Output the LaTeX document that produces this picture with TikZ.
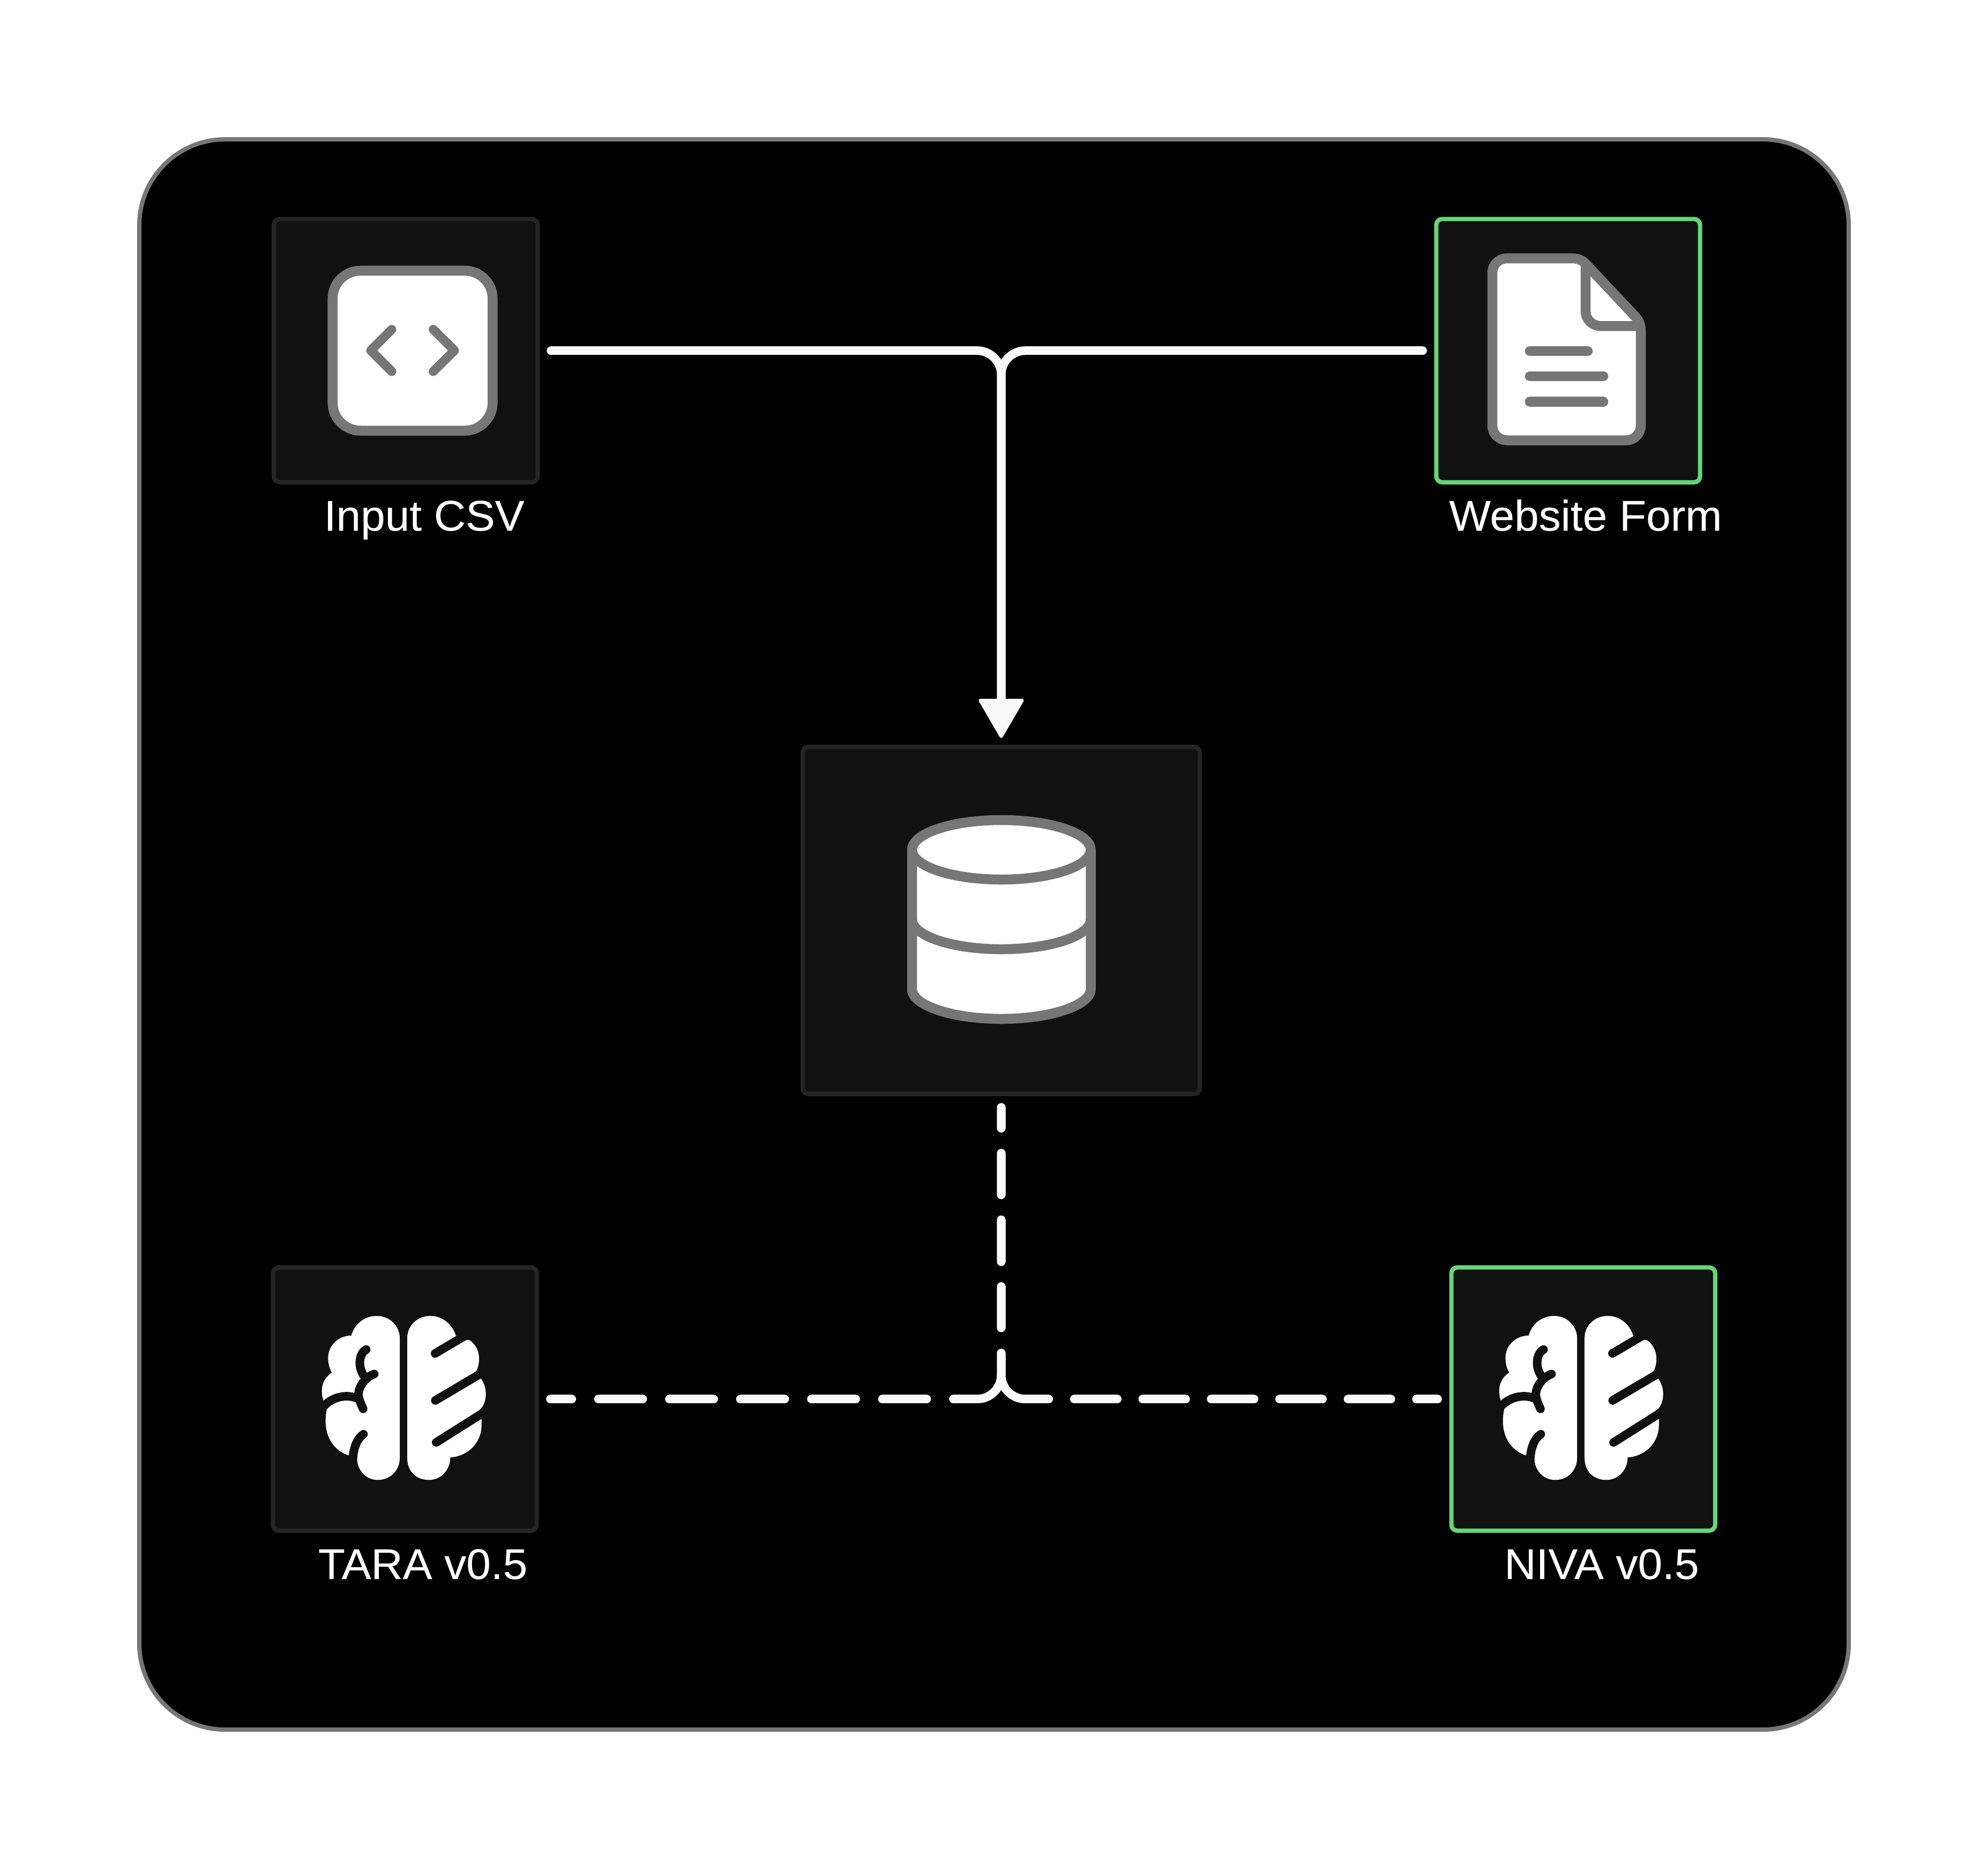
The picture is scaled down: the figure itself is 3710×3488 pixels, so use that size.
\documentclass[tikz,border=0pt]{standalone}
\usepackage{fontspec}
\setmainfont[FakeStretch=1.025,FakeBold=0.12]{Liberation Sans}
\usetikzlibrary{arrows.meta}
\definecolor{boxfill}{HTML}{111111}
\definecolor{boxline}{HTML}{252525}
\definecolor{okgreen}{HTML}{65D676}
\definecolor{icongray}{HTML}{767676}
\definecolor{wire}{HTML}{F9F9F9}
\tikzset{
  cardbox/.style={draw=boxline,fill=boxfill,line width=0.08cm,rounded corners=0.11cm,outer sep=0pt,inner sep=0pt,minimum width=4.92cm,minimum height=4.91cm},
  greenbox/.style={cardbox,draw=okgreen},
  caption/.style={text=white,anchor=base,inner sep=0pt,font=\fontsize{22.76pt}{26pt}\selectfont},
  iconshape/.style={draw=icongray,fill=white,line width=0.185cm,line join=round},
  iconline/.style={draw=icongray,line width=0.185cm,line cap=round},
  flow/.style={draw=wire,line width=0.16cm,line cap=round,rounded corners=0.45cm},
  groove/.style={draw=boxfill,line width=0.16cm,line cap=round},
  brain/.pic={
    \begin{scope}[shift={(-165.5,-165)},scale=1/3]
      \fill[white] (468,155) .. controls (468,85) and (410,30) .. (340,30)
        .. controls (270,30) and (215,75) .. (197,140)
        .. controls (125,140) and (67,195) .. (67,265)
        .. controls (67,297) and (75,325) .. (88,347)
        .. controls (50,372) and (32,410) .. (32,450)
        .. controls (32,470) and (36,490) .. (42,507)
        -- (65,540)
        .. controls (57,555) and (53,590) .. (53,620)
        .. controls (53,715) and (105,785) .. (180,810)
        -- (228,825)
        .. controls (230,895) and (280,948) .. (345,948)
        .. controls (415,948) and (468,895) .. (468,825) -- cycle;
      \fill[white] (510,155) .. controls (510,80) and (570,30) .. (640,30)
        .. controls (705,30) and (762,75) .. (782,140)
        -- (835,168)
        .. controls (845,162) and (858,162) .. (868,172)
        .. controls (895,195) and (912,230) .. (912,268)
        .. controls (912,300) and (905,330) .. (890,347)
        -- (922,380)
        .. controls (940,405) and (950,435) .. (950,468)
        .. controls (950,505) and (935,540) .. (915,556)
        -- (926,605) -- (926,640)
        .. controls (926,740) and (850,815) .. (751,822)
        .. controls (751,890) and (700,948) .. (632,948)
        .. controls (560,948) and (510,900) .. (510,825) -- cycle;
      \draw[groove] (30,548) .. controls (75,495) and (150,460) .. (235,492);
      \draw[groove] (280,218) .. controls (245,235) and (225,310) .. (272,372);
      \draw[groove] (325,355) .. controls (270,375) and (225,440) .. (240,490) .. controls (245,515) and (255,530) .. (263,550);
      \draw[groove] (265,692) .. controls (230,715) and (205,770) .. (205,850);
      \draw[groove] (666,240) -- (850,131);
      \draw[groove] (667,503) -- (950,336);
      \draw[groove] (672,738) -- (965,553);
    \end{scope}
  }
}
\begin{document}
\begin{tikzpicture}[x=0.01cm,y=-0.01cm]
\useasboundingbox (0,0) rectangle (3710,3488);
\fill[white] (0,0) rectangle (3710,3488);
\draw[draw=icongray,fill=black,line width=0.08cm,rounded corners=1.6cm] (260,260) rectangle (3450,3227);

% cards
\node[cardbox] (inp) at (757.2,654.2) {};
\node[greenbox] (web) at (2926.5,654.2) {};
\node[cardbox,minimum width=7.41cm,minimum height=6.475cm] (db) at (1868.5,1717.2) {};
\node[cardbox] (tara) at (755.5,2610.2) {};
\node[greenbox] (niva) at (2954.6,2610.2) {};

% captions
\node[caption] (inpcap) at (791.6,990) {Input CSV};
\node[caption] (webcap) at (2959,990) {Website Form};
\node[caption] (taracap) at (789,2946) {TARA v0.5};
\node[caption] (nivacap) at (2989,2946) {NIVA v0.5};

% code icon
\draw[iconshape,rounded corners=0.52cm] (620.7,505) rectangle (919.3,803.5);
\draw[iconline,line width=0.17cm,line join=round] (731,614.7) -- (692,654) -- (731,693);
\draw[iconline,line width=0.17cm,line join=round] (808.6,614.7) -- (848,654) -- (808.6,693);

% document icon
\draw[iconshape] (2785,509) .. controls (2785,494) and (2797,482) .. (2812,482)
  -- (2935,482) .. controls (2945,482) and (2953,486) .. (2959,492)
  -- (3052,591) .. controls (3059,598) and (3062,608) .. (3062,618)
  -- (3062,794) .. controls (3062,809) and (3050,821.5) .. (3035,821.5)
  -- (2812,821.5) .. controls (2797,821.5) and (2785,809) .. (2785,794.5) -- cycle;
\draw[iconline,line cap=butt] (2959,490) -- (2959,580) .. controls (2959,597) and (2972,608.4) .. (2988,608.4) -- (3062,608.4);
\draw[iconline] (2855,655) -- (2963,655);
\draw[iconline] (2855,702) -- (2992,702);
\draw[iconline] (2855,749.5) -- (2992,749.5);

% database icon
\draw[iconshape] (1702,1585.5) -- (1702,1845.5) .. controls (1702,1876) and (1777,1901) .. (1868.7,1901)
  .. controls (1960,1901) and (2035.5,1876) .. (2035.5,1845.5) -- (2035.5,1585.5) -- cycle;
\draw[iconshape] (1868.7,1585.5) ellipse [x radius=166.7,y radius=55.5];
\draw[iconline,line cap=butt] (1702,1715.5) .. controls (1702,1746) and (1777,1771) .. (1868.7,1771)
  .. controls (1960,1771) and (2035.5,1746) .. (2035.5,1715.5);

% brains
\pic at (tara.center) {brain};
\pic at ([xshift=-0.02cm]niva.center) {brain};

% connectors
\draw[flow,shorten <=0.248cm,shorten >=0.165cm,-{Triangle[length=0.76cm,width=0.87cm,line width=0.06cm,round]}] (inp.east) -| (db.north);
\draw[flow,shorten <=0.255cm,shorten >=0.165cm,-{Triangle[length=0.76cm,width=0.87cm,line width=0.06cm,round]}] (web.west) -| (db.north);
\draw[flow,shorten <=0.25cm,shorten >=0.255cm,
  dash pattern=on .387cm off .466cm on .777cm off .467cm on .78cm off .463cm on .77cm off .47cm on 1.557cm off .497cm on .827cm off .497cm on .827cm off .497cm on .827cm off .497cm on .827cm off .497cm on .827cm off .497cm on .41cm off 10cm]
  (db.south) |- (tara.east);
\draw[flow,shorten <=0.25cm,shorten >=0.256cm,
  dash pattern=on .387cm off .466cm on .777cm off .467cm on .78cm off .463cm on .77cm off .47cm on 1.55cm off .477cm on .80cm off .476cm on .80cm off .476cm on .80cm off .476cm on .80cm off .476cm on .80cm off .476cm on .40cm off 10cm]
  (db.south) |- (niva.west);
\end{tikzpicture}
\end{document}
